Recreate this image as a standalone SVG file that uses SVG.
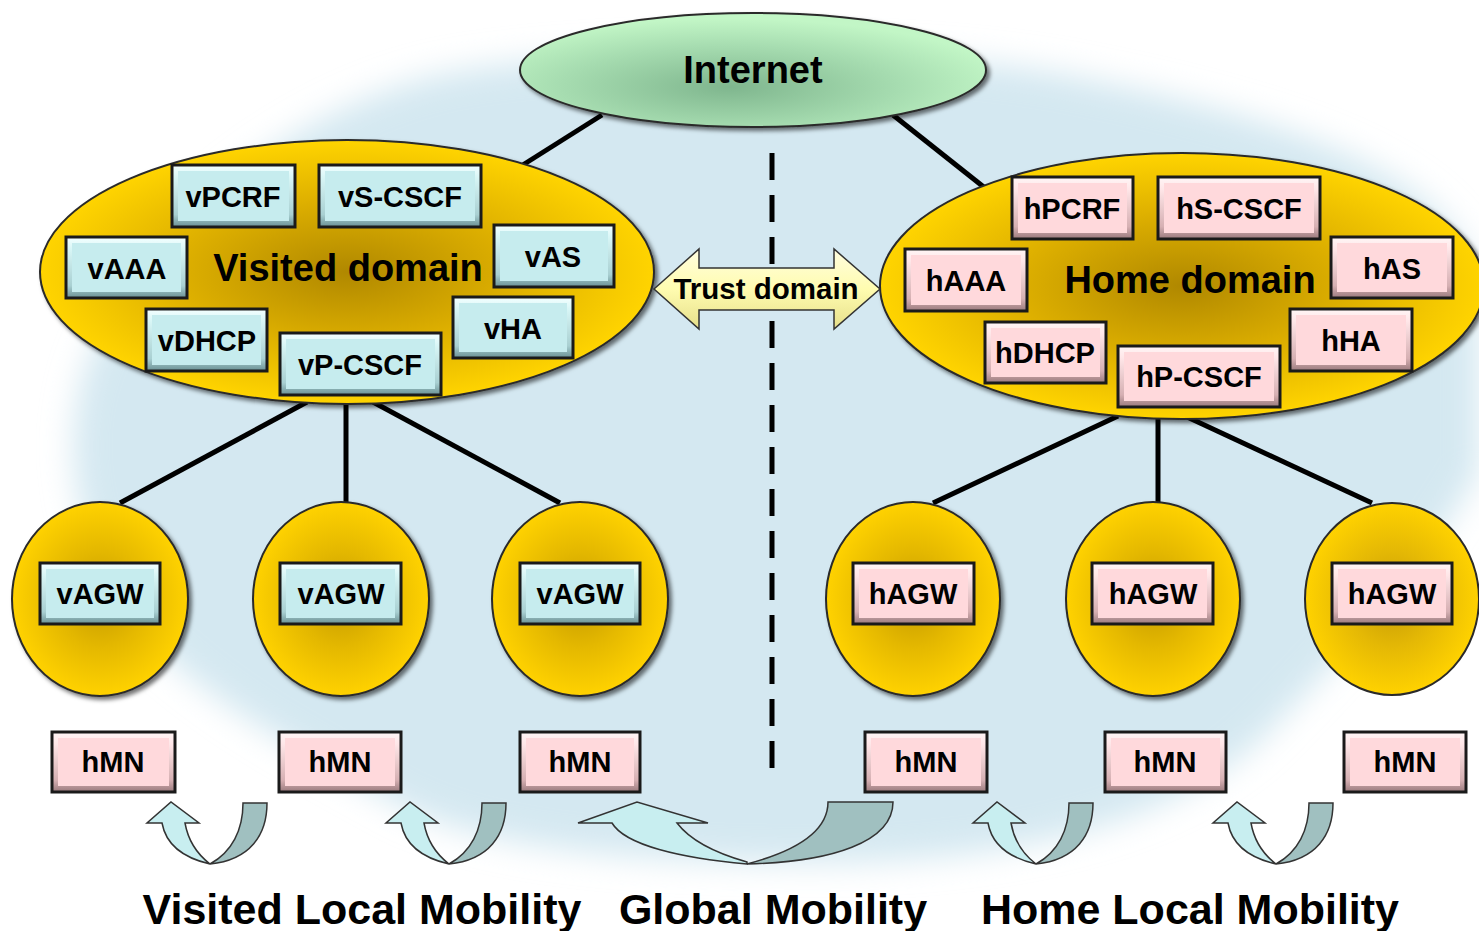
<svg xmlns="http://www.w3.org/2000/svg" width="1479" height="931" viewBox="0 0 1479 931">
<defs>
<style>
text{font-family:"Liberation Sans",Arial,sans-serif;font-weight:bold;fill:#000;text-anchor:middle}
.lb{font-size:29px}
.dom{font-size:38px}
.bot{font-size:43px}
.bx{stroke:#1a1a1a;stroke-width:3}
.bc{fill:url(#bevC)}
.bp{fill:url(#bevP)}
.ic{fill:#c6ecee}
.ip{fill:#ffd9dc}
.gold{fill:url(#goldG);stroke:#2a2a2a;stroke-width:2;filter:url(#sh)}
.agw{fill:url(#agwG);stroke:#2a2a2a;stroke-width:2;filter:url(#sh)}
.ln{stroke:#000;stroke-width:5;fill:none}
.ua{fill:#c8eef0;stroke:#333;stroke-width:1.5}
.ub{fill:#a0c0c0;stroke:#333;stroke-width:1.5}
</style>
<linearGradient id="bevC" x1="0" y1="0" x2="0" y2="1">
<stop offset="0" stop-color="#f4ffff"/><stop offset="0.2" stop-color="#d8f6f6"/><stop offset="0.8" stop-color="#a9d0d2"/><stop offset="1" stop-color="#6a9093"/>
</linearGradient>
<linearGradient id="bevP" x1="0" y1="0" x2="0" y2="1">
<stop offset="0" stop-color="#fff6f6"/><stop offset="0.2" stop-color="#ffe6e8"/><stop offset="0.8" stop-color="#d6b0b3"/><stop offset="1" stop-color="#9a7a7d"/>
</linearGradient>
<radialGradient id="goldG" cx="0.5" cy="0.5" r="0.5">
<stop offset="0" stop-color="#b08806"/><stop offset="0.55" stop-color="#deb005"/><stop offset="1" stop-color="#ffd400"/>
</radialGradient>
<radialGradient id="agwG" cx="0.5" cy="0.5" r="0.5">
<stop offset="0" stop-color="#c49a06"/><stop offset="0.5" stop-color="#e4b805"/><stop offset="1" stop-color="#ffd200"/>
</radialGradient>
<radialGradient id="netG" cx="0.45" cy="0.65" r="0.6">
<stop offset="0" stop-color="#7fb68e"/><stop offset="0.6" stop-color="#a6dcb0"/><stop offset="1" stop-color="#c2f6c6"/>
</radialGradient>
<linearGradient id="trG" x1="0" y1="0" x2="0" y2="1">
<stop offset="0" stop-color="#fffde0"/><stop offset="0.5" stop-color="#fffcb0"/><stop offset="1" stop-color="#e6df8a"/>
</linearGradient>
<filter id="sh" x="-10%" y="-10%" width="125%" height="125%">
<feDropShadow dx="3" dy="3" stdDeviation="2" flood-color="#000" flood-opacity="0.55"/>
</filter>
<filter id="blur" x="-20%" y="-20%" width="140%" height="140%">
<feGaussianBlur stdDeviation="16"/>
</filter>
</defs>
<rect width="1479" height="931" fill="#fff"/>
<path d="M440,75 C580,45 940,45 1090,80 C1290,120 1479,180 1479,300 L1479,470 C1430,560 1340,660 1260,740 C1150,840 960,868 760,862 C580,858 460,840 390,800 C300,750 240,720 170,660 C90,590 60,480 80,390 C110,260 270,115 440,75 Z" fill="#d4e8f1" filter="url(#blur)"/>
<g id="connectors">
<line class="ln" x1="772" y1="153" x2="772" y2="768" stroke-dasharray="27 15"/>
<line class="ln" x1="602" y1="115" x2="518" y2="168"/>
<line class="ln" x1="893" y1="115" x2="985" y2="188"/>
<line class="ln" x1="307" y1="402" x2="120" y2="503"/>
<line class="ln" x1="346" y1="402" x2="346" y2="503"/>
<line class="ln" x1="373" y1="402" x2="560" y2="503"/>
<line class="ln" x1="1118" y1="416" x2="933" y2="503"/>
<line class="ln" x1="1158" y1="416" x2="1158" y2="503"/>
<line class="ln" x1="1185" y1="416" x2="1372" y2="503"/>
</g>
<g id="internet">
<ellipse cx="753" cy="70" rx="233" ry="57" fill="url(#netG)" stroke="#2a2a2a" stroke-width="2" filter="url(#sh)"/>
<text x="753" y="83" style="font-size:38px">Internet</text>
</g>
<g id="visited-domain">
<ellipse class="gold" cx="347" cy="272" rx="307" ry="132"/>
<text class="dom" x="348" y="281">Visited domain</text>
</g>
<g id="home-domain">
<ellipse class="gold" cx="1182" cy="286" rx="302" ry="133"/>
<text class="dom" x="1190" y="293">Home domain</text>
</g>
<g id="vPCRF"><rect class="bx bc" x="172" y="165" width="123" height="62"/><rect class="ic" x="178" y="171" width="111" height="50"/><text class="lb" x="233" y="207">vPCRF</text></g>
<g id="vS-CSCF"><rect class="bx bc" x="319" y="165" width="162" height="62"/><rect class="ic" x="325" y="171" width="150" height="50"/><text class="lb" x="400" y="207">vS-CSCF</text></g>
<g id="vAAA"><rect class="bx bc" x="66" y="237" width="121" height="61"/><rect class="ic" x="72" y="243" width="109" height="49"/><text class="lb" x="127" y="279">vAAA</text></g>
<g id="vAS"><rect class="bx bc" x="494" y="225" width="120" height="62"/><rect class="ic" x="500" y="231" width="108" height="50"/><text class="lb" x="553" y="267">vAS</text></g>
<g id="vDHCP"><rect class="bx bc" x="146" y="309" width="121" height="62"/><rect class="ic" x="152" y="315" width="109" height="50"/><text class="lb" x="207" y="351">vDHCP</text></g>
<g id="vP-CSCF"><rect class="bx bc" x="280" y="333" width="161" height="62"/><rect class="ic" x="286" y="339" width="149" height="50"/><text class="lb" x="360" y="375">vP-CSCF</text></g>
<g id="vHA"><rect class="bx bc" x="453" y="297" width="120" height="61"/><rect class="ic" x="459" y="303" width="108" height="49"/><text class="lb" x="513" y="339">vHA</text></g>
<g id="hPCRF"><rect class="bx bp" x="1012" y="177" width="121" height="62"/><rect class="ip" x="1018" y="183" width="109" height="50"/><text class="lb" x="1072" y="219">hPCRF</text></g>
<g id="hS-CSCF"><rect class="bx bp" x="1158" y="177" width="162" height="62"/><rect class="ip" x="1164" y="183" width="150" height="50"/><text class="lb" x="1239" y="219">hS-CSCF</text></g>
<g id="hAAA"><rect class="bx bp" x="905" y="249" width="122" height="62"/><rect class="ip" x="911" y="255" width="110" height="50"/><text class="lb" x="966" y="291">hAAA</text></g>
<g id="hAS"><rect class="bx bp" x="1331" y="237" width="122" height="61"/><rect class="ip" x="1337" y="243" width="110" height="49"/><text class="lb" x="1392" y="279">hAS</text></g>
<g id="hDHCP"><rect class="bx bp" x="985" y="322" width="121" height="61"/><rect class="ip" x="991" y="328" width="109" height="49"/><text class="lb" x="1045" y="363">hDHCP</text></g>
<g id="hP-CSCF"><rect class="bx bp" x="1118" y="346" width="162" height="61"/><rect class="ip" x="1124" y="352" width="150" height="49"/><text class="lb" x="1199" y="387">hP-CSCF</text></g>
<g id="hHA"><rect class="bx bp" x="1290" y="309" width="122" height="62"/><rect class="ip" x="1296" y="315" width="110" height="50"/><text class="lb" x="1351" y="351">hHA</text></g>
<g id="trust-domain">
<path d="M654,289 L699,249 L699,268 L834,268 L834,249 L880,289 L834,329 L834,310 L699,310 L699,329 Z" fill="url(#trG)" stroke="#333" stroke-width="1.5"/>
<text x="766" y="299" style="font-size:29.5px">Trust domain</text>
</g>
<g id="vAGW1"><ellipse class="agw" cx="100" cy="599" rx="88" ry="97"/><rect class="bx bc" x="40" y="563" width="120" height="61"/><rect class="ic" x="46" y="569" width="108" height="49"/><text class="lb" x="100" y="604">vAGW</text></g>
<g id="vAGW2"><ellipse class="agw" cx="341" cy="599" rx="88" ry="97"/><rect class="bx bc" x="280" y="563" width="121" height="61"/><rect class="ic" x="286" y="569" width="109" height="49"/><text class="lb" x="341" y="604">vAGW</text></g>
<g id="vAGW3"><ellipse class="agw" cx="580" cy="599" rx="88" ry="97"/><rect class="bx bc" x="520" y="563" width="120" height="61"/><rect class="ic" x="526" y="569" width="108" height="49"/><text class="lb" x="580" y="604">vAGW</text></g>
<g id="hAGW1"><ellipse class="agw" cx="913" cy="599" rx="87" ry="97"/><rect class="bx bp" x="853" y="563" width="121" height="61"/><rect class="ip" x="859" y="569" width="109" height="49"/><text class="lb" x="913" y="604">hAGW</text></g>
<g id="hAGW2"><ellipse class="agw" cx="1153" cy="599" rx="87" ry="97"/><rect class="bx bp" x="1092" y="563" width="121" height="61"/><rect class="ip" x="1098" y="569" width="109" height="49"/><text class="lb" x="1153" y="604">hAGW</text></g>
<g id="hAGW3"><ellipse cx="1392" cy="599" rx="87" ry="96" fill="url(#agwG)" stroke="#2a2a2a" stroke-width="2"/><rect class="bx bp" x="1332" y="563" width="120" height="61"/><rect class="ip" x="1338" y="569" width="108" height="49"/><text class="lb" x="1392" y="604">hAGW</text></g>
<g id="hMN1"><rect class="bx bp" x="52" y="732" width="123" height="60"/><rect class="ip" x="58" y="738" width="111" height="48"/><text class="lb" x="113" y="772">hMN</text></g>
<g id="hMN2"><rect class="bx bp" x="279" y="732" width="122" height="60"/><rect class="ip" x="285" y="738" width="110" height="48"/><text class="lb" x="340" y="772">hMN</text></g>
<g id="hMN3"><rect class="bx bp" x="520" y="732" width="120" height="60"/><rect class="ip" x="526" y="738" width="108" height="48"/><text class="lb" x="580" y="772">hMN</text></g>
<g id="hMN4"><rect class="bx bp" x="865" y="732" width="122" height="60"/><rect class="ip" x="871" y="738" width="110" height="48"/><text class="lb" x="926" y="772">hMN</text></g>
<g id="hMN5"><rect class="bx bp" x="1105" y="732" width="121" height="60"/><rect class="ip" x="1111" y="738" width="109" height="48"/><text class="lb" x="1165" y="772">hMN</text></g>
<g id="hMN6"><rect class="bx bp" x="1344" y="732" width="122" height="60"/><rect class="ip" x="1350" y="738" width="110" height="48"/><text class="lb" x="1405" y="772">hMN</text></g>
<g id="mobility-arrows">
<g id="u1">
<path class="ub" d="M243,803 L267,803 C267,835 250,860 210,864 C232,852 243,830 243,803 Z"/>
<path class="ua" d="M210,864 C184,858 166,845 162,823 L147,823 L171,802 L199,823 L185,823 C188,840 197,854 210,864 Z"/>
</g>
<use href="#u1" transform="translate(239,0)"/>
<use href="#u1" transform="translate(826,0)"/>
<use href="#u1" transform="translate(1066,0)"/>
<g id="uBig">
<path class="ub" d="M828,802 L893,802 C893,842 832,862 747,864 C800,850 828,830 828,802 Z"/>
<path class="ua" d="M747,864 C680,858 625,845 612,823 L578,823 L637,802 L708,823 L677,823 C690,840 715,853 747,862 Z"/>
</g>
</g>
<g id="labels">
<text class="bot" x="362" y="924">Visited Local Mobility</text>
<text class="bot" x="773" y="924">Global Mobility</text>
<text class="bot" x="1190" y="924">Home Local Mobility</text>
</g>
</svg>
